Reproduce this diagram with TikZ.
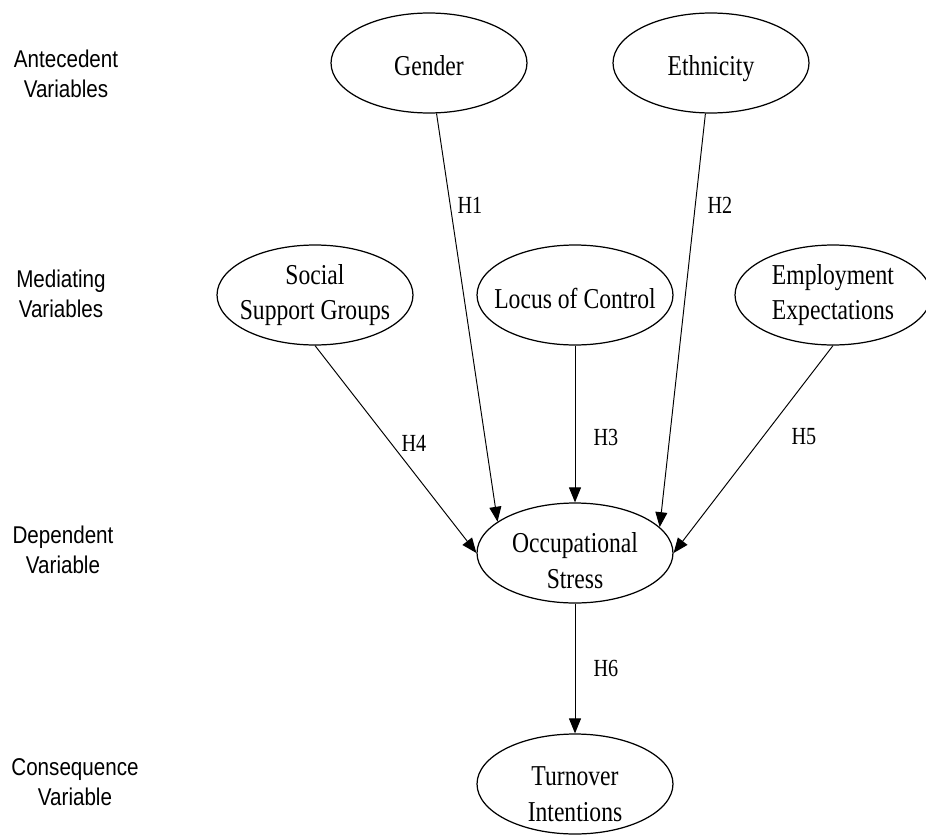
\documentclass[tikz,border=0pt]{standalone}
\usepackage{fontspec}
\setmainfont{Liberation Serif}[FakeStretch=0.82]
\newfontfamily\levelfont{Liberation Sans}[FakeStretch=0.85]
\usetikzlibrary{shapes.geometric, arrows.meta}

\begin{document}
\begin{tikzpicture}[x=0.02cm, y=-0.02cm,
    var/.style={ellipse, draw, line width=0.7pt, minimum width=3.92cm,
        minimum height=2cm, inner sep=0pt},
    vtext/.style={align=center, inner sep=0pt,
        font={\fontsize{16.4pt}{20.4pt}\selectfont}},
    hyp/.style={inner sep=0pt, font={\fontsize{14pt}{17pt}\selectfont}},
    level/.style={align=center, inner sep=0pt,
        font={\levelfont\fontsize{13.8pt}{17pt}\selectfont}},
    link/.style={-{Triangle[length=8.5pt, width=6.8pt]}, line width=0.55pt}]

    \useasboundingbox (0,0) rectangle (926,835);

    % ;- level names (left column) ;-
    \node[level] (lv-ante) at (66,74) {Antecedent\\Variables};
    \node[level] (lv-med) at (61,294) {Mediating\\Variables};
    \node[level] (lv-dep) at (63,550) {Dependent\\Variable};
    \node[level] (lv-cons) at (75,782) {Consequence\\Variable};

    % ;- antecedent variables ;-
    \node[var, label={[vtext, yshift=-0.06cm]center:Gender}] (gender) at (429,63) {};
    \node[var, label={[vtext, yshift=-0.12cm]center:Ethnicity}] (ethnicity) at (711,63) {};

    % ;- mediating variables ;-
    \node[var, label={[vtext]center:Social\\Support Groups}] (social) at (315,295) {};
    \node[var, label={[vtext, yshift=-0.06cm]center:Locus of Control}] (locus) at (575,295) {};
    \node[var, label={[vtext]center:Employment\\Expectations}] (employ) at (833,295) {};

    % ;- dependent and consequence ;-
    \node[var, label={[vtext, yshift=-0.16cm]center:Occupational\\Stress}] (stress) at (575,553) {};
    \node[var, label={[vtext, yshift=-0.2cm]center:Turnover\\Intentions}] (turnover) at (575,784) {};

    % hypothesised paths
    \draw[link] (gender) -- (stress.158);
    \draw[link] (ethnicity) -- (stress.17);
    \draw[link] (social.south) -- (stress.west);
    \draw[link] (locus) -- (stress);
    \draw[link] (employ.south) -- (stress.east);
    \draw[link] (stress) -- (turnover);

    % path labels
    \node[hyp] (h1) at (470,205) {H1};
    \node[hyp] (h2) at (720,205) {H2};
    \node[hyp] (h3) at (606,437) {H3};
    \node[hyp] (h4) at (414,443) {H4};
    \node[hyp] (h5) at (804,437) {H5};
    \node[hyp] (h6) at (606,668) {H6};

\end{tikzpicture}
\end{document}
